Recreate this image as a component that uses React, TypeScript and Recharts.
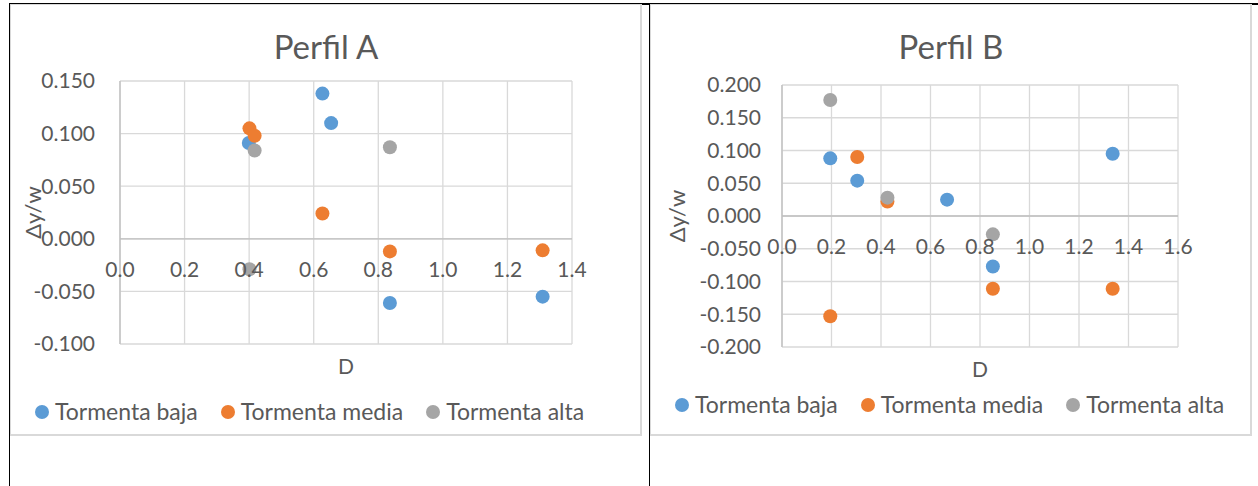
import React from 'react';
import { ScatterChart, Scatter, XAxis, YAxis, CartesianGrid, ReferenceLine, Label } from 'recharts';

type Pt = { x: number; y: number };

// Series shared by both profiles
const SERIES_NAMES = ['Tormenta baja', 'Tormenta media', 'Tormenta alta'];
const SERIES_COLORS = ['#5b9bd5', '#ed7d31', '#a5a5a5'];

// Perfil A
const perfilABaja: Pt[] = [
  { x: 0.399, y: 0.091 },
  { x: 0.627, y: 0.138 },
  { x: 0.654, y: 0.11 },
  { x: 0.836, y: -0.061 },
  { x: 1.309, y: -0.055 },
];
const perfilAMedia: Pt[] = [
  { x: 0.401, y: 0.105 },
  { x: 0.417, y: 0.098 },
  { x: 0.627, y: 0.024 },
  { x: 0.836, y: -0.012 },
  { x: 1.309, y: -0.011 },
];
const perfilAAlta: Pt[] = [
  { x: 0.417, y: 0.084 },
  { x: 0.836, y: 0.087 },
  { x: 0.401, y: -0.029 },
];
const perfilAXTicks = [0, 0.2, 0.4, 0.6, 0.8, 1.0, 1.2, 1.4];
const perfilAYTicks = [-0.1, -0.05, 0, 0.05, 0.1, 0.15];

// Perfil B
const perfilBBaja: Pt[] = [
  { x: 0.195, y: 0.088 },
  { x: 0.304, y: 0.054 },
  { x: 0.667, y: 0.025 },
  { x: 0.852, y: -0.077 },
  { x: 1.336, y: 0.095 },
];
const perfilBMedia: Pt[] = [
  { x: 0.304, y: 0.09 },
  { x: 0.426, y: 0.022 },
  { x: 0.195, y: -0.153 },
  { x: 0.852, y: -0.111 },
  { x: 1.336, y: -0.111 },
];
const perfilBAlta: Pt[] = [
  { x: 0.195, y: 0.177 },
  { x: 0.426, y: 0.028 },
  { x: 0.852, y: -0.028 },
];
const perfilBXTicks = [0, 0.2, 0.4, 0.6, 0.8, 1.0, 1.2, 1.4, 1.6];
const perfilBYTicks = [-0.2, -0.15, -0.1, -0.05, 0, 0.05, 0.1, 0.15, 0.2];

const FONT = 'Lato, "Open Sans", sans-serif';
const TEXT_COLOR = '#595959';
const GRID_COLOR = '#d9d9d9';
const AXIS_COLOR = '#bfbfbf';
const X_AXIS_HEIGHT = 40;

interface PanelProps {
  title: string;
  series: Pt[][];
  xTicks: number[];
  yTicks: number[];
  left: number;
  top: number;
  width: number;
  height: number;
  margin: { top: number; right: number; bottom: number };
  yAxisWidth: number;
  yTickGap: number;
  yLabelX: number;
  legendCenterY: number;
}

function Panel(p: PanelProps) {
  const yMin = p.yTicks[0];
  const yMax = p.yTicks[p.yTicks.length - 1];
  const plotH = p.height - p.margin.top - p.margin.bottom - X_AXIS_HEIGHT;
  // the horizontal axis crosses the vertical one at zero
  const zeroY = p.margin.top + (plotH * yMax) / (yMax - yMin);

  const XTick = (props: any) => (
    <text
      x={props.x}
      y={zeroY + 38}
      textAnchor="middle"
      fill={TEXT_COLOR}
      fontSize={21}
      fontFamily={FONT}
    >
      {Number(props.payload.value).toFixed(1)}
    </text>
  );

  return (
    <div
      style={{
        position: 'absolute',
        left: p.left,
        top: p.top,
        width: p.width,
        height: p.height,
        background: '#fff',
      }}
    >
      <div
        style={{
          position: 'absolute',
          left: 0,
          top: 26,
          width: p.width,
          textAlign: 'center',
          fontFamily: FONT,
          fontSize: 33,
          lineHeight: '33px',
          color: TEXT_COLOR,
        }}
      >
        {p.title}
      </div>
      <div style={{ position: 'absolute', left: 0, top: 0 }}>
        <ScatterChart
          width={p.width}
          height={p.height}
          margin={{ top: p.margin.top, right: p.margin.right, bottom: p.margin.bottom, left: 0 }}
        >
          <CartesianGrid stroke={GRID_COLOR} strokeWidth={1.3} />
          <XAxis
            type="number"
            dataKey="x"
            domain={[p.xTicks[0], p.xTicks[p.xTicks.length - 1]]}
            ticks={p.xTicks}
            interval={0}
            axisLine={false}
            tickLine={false}
            tick={XTick}
            height={X_AXIS_HEIGHT}
          >
            <Label value="D" position="insideTop" offset={15} fill={TEXT_COLOR} fontSize={21} fontFamily={FONT} />
          </XAxis>
          <YAxis
            type="number"
            dataKey="y"
            domain={[yMin, yMax]}
            ticks={p.yTicks}
            interval={0}
            width={p.yAxisWidth}
            tickSize={0}
            tickMargin={p.yTickGap}
            tickLine={false}
            axisLine={{ stroke: AXIS_COLOR, strokeWidth: 1.3 }}
            tickFormatter={(v: number) => v.toFixed(3)}
            tick={{ fill: TEXT_COLOR, fontSize: 21, fontFamily: FONT }}
          >
            <Label
              value="Δy/w"
              angle={-90}
              position="insideLeft"
              offset={p.yLabelX}
              fill={TEXT_COLOR}
              fontSize={22}
              fontFamily={FONT}
              style={{ textAnchor: 'middle' }}
            />
          </YAxis>
          <ReferenceLine y={0} stroke={AXIS_COLOR} strokeWidth={1.3} />
          {p.series.map((data, i) => (
            <Scatter
              key={SERIES_NAMES[i]}
              name={SERIES_NAMES[i]}
              data={data}
              fill={SERIES_COLORS[i]}
              isAnimationActive={false}
              shape={(s: any) => <circle cx={s.cx} cy={s.cy} r={7} fill={SERIES_COLORS[i]} />}
            />
          ))}
        </ScatterChart>
      </div>
      <div
        style={{
          position: 'absolute',
          left: 25,
          top: p.legendCenterY - 12,
          display: 'flex',
          alignItems: 'center',
          fontFamily: FONT,
          fontSize: 23,
          lineHeight: '23px',
          color: TEXT_COLOR,
          whiteSpace: 'nowrap',
        }}
      >
        {SERIES_NAMES.map((name, i) => (
          <div key={name} style={{ display: 'flex', alignItems: 'center', marginRight: 23 }}>
            <span
              style={{
                display: 'inline-block',
                width: 14,
                height: 14,
                borderRadius: '50%',
                background: SERIES_COLORS[i],
                marginRight: 6,
              }}
            />
            {name}
          </div>
        ))}
      </div>
      <div
        style={{
          position: 'absolute',
          left: 0,
          top: 0,
          width: p.width,
          height: p.height,
          boxSizing: 'border-box',
          borderTop: `1px solid ${GRID_COLOR}`,
          borderLeft: `1px solid ${GRID_COLOR}`,
          borderRight: `2px solid ${GRID_COLOR}`,
          borderBottom: `2px solid ${GRID_COLOR}`,
          pointerEvents: 'none',
        }}
      />
    </div>
  );
}

export default function App() {
  return (
    <div style={{ position: 'absolute', left: 0, top: 0, width: 1258, height: 486, background: '#fff' }}>
      {/* table rules */}
      <div style={{ position: 'absolute', left: 9, top: 3, width: 1249, height: 1.5, background: '#000' }} />
      <div style={{ position: 'absolute', left: 9, top: 3, width: 1.2, height: 483, background: '#000' }} />
      <div style={{ position: 'absolute', left: 648.8, top: 3, width: 1.5, height: 483, background: '#000' }} />
      <Panel
        title="Perfil A"
        series={[perfilABaja, perfilAMedia, perfilAAlta]}
        xTicks={perfilAXTicks}
        yTicks={perfilAYTicks}
        left={10}
        top={4}
        width={632}
        height={432}
        margin={{ top: 77, right: 70, bottom: 52 }}
        yAxisWidth={110}
        yTickGap={25}
        yLabelX={23}
        legendCenterY={408}
      />
      <Panel
        title="Perfil B"
        series={[perfilBBaja, perfilBMedia, perfilBAlta]}
        xTicks={perfilBXTicks}
        yTicks={perfilBYTicks}
        left={650}
        top={4}
        width={602}
        height={432}
        margin={{ top: 81, right: 74, bottom: 49 }}
        yAxisWidth={132}
        yTickGap={21}
        yLabelX={27}
        legendCenterY={401}
      />
    </div>
  );
}
